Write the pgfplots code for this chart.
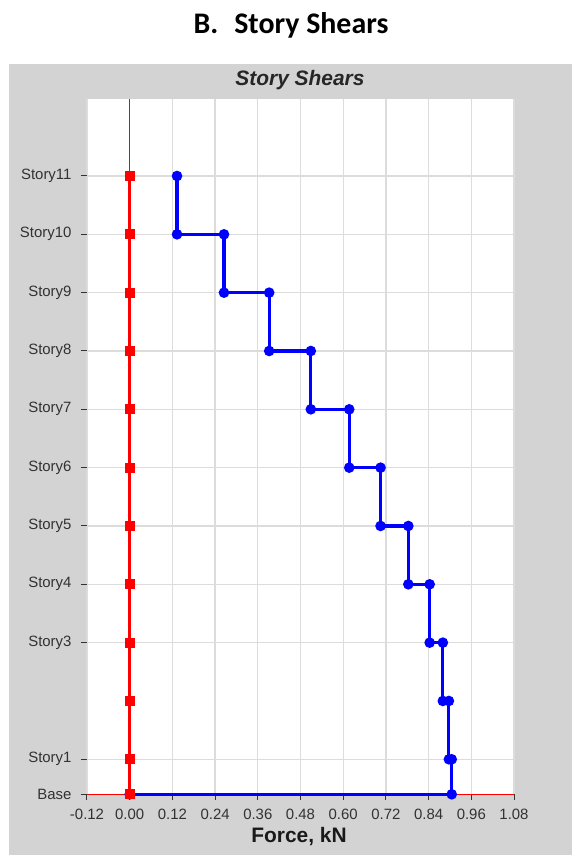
\documentclass[border=0pt]{standalone}
\usepackage{pgfplots}
\pgfplotsset{compat=1.18}
\usepackage{fontspec}
\setmainfont{Liberation Sans}
\newfontfamily\calibri{Carlito}
\definecolor{panelgray}{RGB}{211,211,211}
\definecolor{gridgray}{RGB}{220,220,220}
\definecolor{ticktext}{RGB}{50,50,50}
\definecolor{sblue}{RGB}{0,0,255}
\definecolor{sred}{RGB}{255,0,0}
\begin{document}
\begin{tikzpicture}[x=1bp,y=1bp]
\useasboundingbox (-87,-60.7) rectangle (485,794.3);
\fill[white] (-87,-60.7) rectangle (485,794.3);
\fill[panelgray] (-78,-60.7) rectangle (485,730.3);
\node[font=\calibri\bfseries\fontsize{30}{30}\selectfont] at (204,769.3) {B.\hspace{16bp}Story Shears};
\node[font=\bfseries\itshape\fontsize{21}{21}\selectfont, text=black!85] at (213,714) {Story Shears};
\begin{axis}[
  at={(0,0)}, anchor=south west,
  scale only axis, width=427bp, height=695bp,
  xmin=-0.12, xmax=1.08, ymin=0, ymax=11.915,
  axis background/.style={fill=white},
  axis line style={draw=none},
  xtick={-0.12,0,0.12,0.24,0.36,0.48,0.60,0.72,0.84,0.96,1.08},
  xticklabels={-0.12,0.00,0.12,0.24,0.36,0.48,0.60,0.72,0.84,0.96,1.08},
  ytick={0,0.6,2.6,3.6,4.6,5.6,6.6,7.6,8.6,9.6,10.6},
  yticklabels={Base,Story1,Story3,Story4,Story5,Story6,Story7,Story8,Story9,Story10,Story11},
  xtick pos=bottom, ytick pos=left,
  tick align=outside, major tick length=6bp,
  tick style={color=black!80, line width=1bp},
  grid=major, major grid style={draw=gridgray, line width=1.3bp},
  ticklabel style={font=\fontsize{15}{15}\selectfont, text=ticktext},
  xticklabel style={yshift=-5bp},
  yticklabel style={xshift=-6bp},
  clip=false,
]
\addplot[sred, line width=1bp, forget plot] coordinates {(0,0) (0,11.915)};
\addplot[sred, line width=1bp, forget plot] coordinates {(-0.12,0) (1.08,0)};
\addplot[sblue, line width=3.2bp, mark=*, mark size=3.6bp, mark options={solid}] coordinates {
(0.133,10.6) (0.133,9.6) (0.265,9.6) (0.265,8.6) (0.392,8.6) (0.392,7.6)
(0.509,7.6) (0.509,6.6) (0.617,6.6) (0.617,5.6) (0.705,5.6) (0.705,4.6)
(0.783,4.6) (0.783,3.6) (0.843,3.6) (0.843,2.6) (0.880,2.6) (0.880,1.6)
(0.897,1.6) (0.897,0.6) (0.905,0.6) (0.905,0) (0,0)};
\addplot[sred, line width=2.8bp, mark=square*, mark size=3.6bp, mark options={solid}] coordinates {
(0,10.6) (0,9.6) (0,8.6) (0,7.6) (0,6.6) (0,5.6) (0,4.6) (0,3.6) (0,2.6) (0,1.6) (0,0.6) (0,0)};
\end{axis}
\node[font=\bfseries\fontsize{21}{21}\selectfont, text=black!90] at (212,-42.7) {Force, kN};
\end{tikzpicture}
\end{document}
